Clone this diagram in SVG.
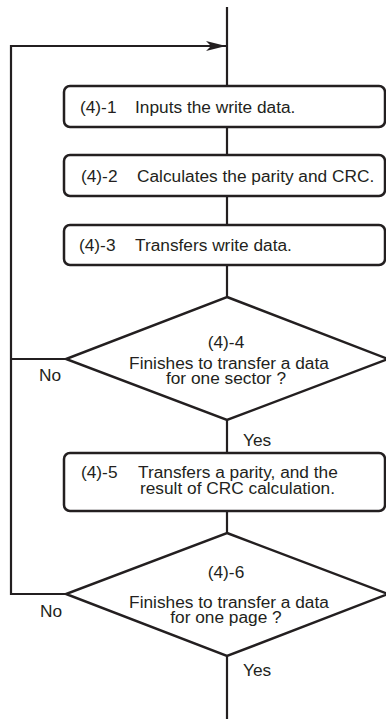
<svg xmlns="http://www.w3.org/2000/svg" width="386" height="719" viewBox="0 0 386 719">
  <style>
    .ln { fill: none; stroke: #231f20; stroke-width: 2.2; }
    .box { fill: #fff; stroke: #231f20; stroke-width: 2.5; }
    .t { font-family: "Liberation Sans", Arial, sans-serif; font-size: 17.3px; fill: #231f20; }
    .c { text-anchor: middle; }
  </style>
  <defs>
    <marker id="arrow" viewBox="0 0 20 10" refX="20" refY="5" markerWidth="20" markerHeight="10" markerUnits="userSpaceOnUse" orient="auto">
      <path d="M0,0 L20,5 L0,10 L5,5 Z" fill="#231f20"/>
    </marker>
  </defs>

  <!-- connectors -->
  <g id="connectors">
    <line class="ln" x1="227" y1="7" x2="227" y2="719"/>
    <!-- loop back from the page check -->
    <polyline class="ln" points="66,594 11,594 11,46 226,46" marker-end="url(#arrow)"/>
    <!-- loop back from the sector check -->
    <line class="ln" x1="11" y1="359" x2="66" y2="359"/>
  </g>

  <g id="step1">
    <rect class="box" x="64" y="86" width="321" height="41" rx="6"/>
    <text class="t" x="80" y="113">(4)-1</text>
    <text class="t" x="135" y="113">Inputs the write data.</text>
  </g>

  <g id="step2">
    <rect class="box" x="64" y="155" width="321" height="41" rx="6"/>
    <text class="t" x="81" y="182">(4)-2</text>
    <text class="t" x="137" y="182">Calculates the parity and CRC.</text>
  </g>

  <g id="step3">
    <rect class="box" x="64" y="225" width="321" height="40" rx="6"/>
    <text class="t" x="79" y="251">(4)-3</text>
    <text class="t" x="135" y="251">Transfers write data.</text>
  </g>

  <g id="step4">
    <polygon class="box" points="227,297 388,359 227,420 66,359"/>
    <text class="t c" x="226" y="348">(4)-4</text>
    <text class="t c" x="229" y="369">Finishes to transfer a data</text>
    <text class="t c" x="226" y="384">for one sector ?</text>
    <text class="t" x="39" y="381">No</text>
    <text class="t" x="243" y="446">Yes</text>
  </g>

  <g id="step5">
    <rect class="box" x="64" y="453" width="321" height="58" rx="6"/>
    <text class="t" x="81" y="478">(4)-5</text>
    <text class="t" x="138" y="478">Transfers a parity, and the</text>
    <text class="t" x="140" y="494">result of CRC calculation.</text>
  </g>

  <g id="step6">
    <polygon class="box" points="227,533 388,594 227,656 66,594"/>
    <text class="t c" x="226" y="578">(4)-6</text>
    <text class="t c" x="229" y="608">Finishes to transfer a data</text>
    <text class="t c" x="226" y="623">for one page ?</text>
    <text class="t" x="40" y="617">No</text>
    <text class="t" x="243" y="676">Yes</text>
  </g>
</svg>
